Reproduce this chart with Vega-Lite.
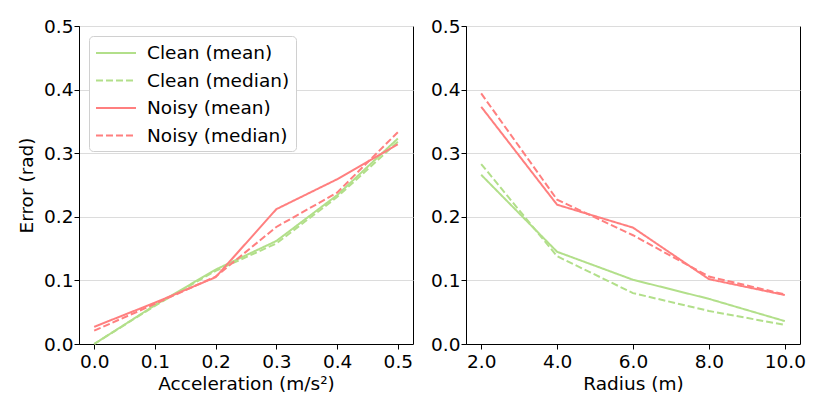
{
  "$schema": "https://vega.github.io/schema/vega-lite/v6.json",
  "background": "white",
  "padding": {"left": 17, "top": 16, "right": 10, "bottom": 5},
  "spacing": 16,
  "datasets": {
    "accel": [
      {"a": 0.0, "series": "Clean (mean)", "err": 0.0},
      {"a": 0.1, "series": "Clean (mean)", "err": 0.061},
      {"a": 0.2, "series": "Clean (mean)", "err": 0.117},
      {"a": 0.3, "series": "Clean (mean)", "err": 0.162},
      {"a": 0.4, "series": "Clean (mean)", "err": 0.234},
      {"a": 0.5, "series": "Clean (mean)", "err": 0.323},
      {"a": 0.0, "series": "Clean (median)", "err": 0.0},
      {"a": 0.1, "series": "Clean (median)", "err": 0.06},
      {"a": 0.2, "series": "Clean (median)", "err": 0.115},
      {"a": 0.3, "series": "Clean (median)", "err": 0.158},
      {"a": 0.4, "series": "Clean (median)", "err": 0.231},
      {"a": 0.5, "series": "Clean (median)", "err": 0.318},
      {"a": 0.0, "series": "Noisy (mean)", "err": 0.027},
      {"a": 0.1, "series": "Noisy (mean)", "err": 0.065},
      {"a": 0.2, "series": "Noisy (mean)", "err": 0.105},
      {"a": 0.3, "series": "Noisy (mean)", "err": 0.212},
      {"a": 0.4, "series": "Noisy (mean)", "err": 0.259},
      {"a": 0.5, "series": "Noisy (mean)", "err": 0.314},
      {"a": 0.0, "series": "Noisy (median)", "err": 0.021},
      {"a": 0.1, "series": "Noisy (median)", "err": 0.063},
      {"a": 0.2, "series": "Noisy (median)", "err": 0.106},
      {"a": 0.3, "series": "Noisy (median)", "err": 0.184},
      {"a": 0.4, "series": "Noisy (median)", "err": 0.238},
      {"a": 0.5, "series": "Noisy (median)", "err": 0.333}
    ],
    "radius": [
      {"r": 2, "series": "Clean (mean)", "err": 0.266},
      {"r": 4, "series": "Clean (mean)", "err": 0.145},
      {"r": 6, "series": "Clean (mean)", "err": 0.101},
      {"r": 8, "series": "Clean (mean)", "err": 0.071},
      {"r": 10, "series": "Clean (mean)", "err": 0.036},
      {"r": 2, "series": "Clean (median)", "err": 0.283},
      {"r": 4, "series": "Clean (median)", "err": 0.138},
      {"r": 6, "series": "Clean (median)", "err": 0.08},
      {"r": 8, "series": "Clean (median)", "err": 0.052},
      {"r": 10, "series": "Clean (median)", "err": 0.03},
      {"r": 2, "series": "Noisy (mean)", "err": 0.373},
      {"r": 4, "series": "Noisy (mean)", "err": 0.219},
      {"r": 6, "series": "Noisy (mean)", "err": 0.183},
      {"r": 8, "series": "Noisy (mean)", "err": 0.102},
      {"r": 10, "series": "Noisy (mean)", "err": 0.077},
      {"r": 2, "series": "Noisy (median)", "err": 0.394},
      {"r": 4, "series": "Noisy (median)", "err": 0.227},
      {"r": 6, "series": "Noisy (median)", "err": 0.171},
      {"r": 8, "series": "Noisy (median)", "err": 0.106},
      {"r": 10, "series": "Noisy (median)", "err": 0.078}
    ]
  },
  "config": {
    "font": "DejaVu Sans",
    "view": {"stroke": "black", "strokeWidth": 1},
    "axis": {
      "labelFont": "DejaVu Sans",
      "titleFont": "DejaVu Sans",
      "labelFontSize": 18.5,
      "titleFontSize": 18.5,
      "titleFontWeight": "normal",
      "labelColor": "black",
      "titleColor": "black",
      "domainColor": "black",
      "tickColor": "black",
      "tickSize": 5,
      "labelPadding": 1,
      "gridColor": "#dcdcdc",
      "gridWidth": 1
    },
    "legend": {
      "labelFont": "DejaVu Sans",
      "labelFontSize": 18.5,
      "labelColor": "black"
    }
  },
  "resolve": {"legend": {"color": "independent", "strokeDash": "independent"}},
  "hconcat": [
    {
      "width": 334,
      "height": 318,
      "data": {"name": "accel"},
      "mark": {"type": "line", "strokeWidth": 2},
      "encoding": {
        "x": {
          "field": "a",
          "type": "quantitative",
          "scale": {"domain": [-0.025, 0.525], "nice": false, "zero": false},
          "axis": {"values": [0, 0.1, 0.2, 0.3, 0.4, 0.5], "format": ".1f", "grid": false, "title": "Acceleration (m/s²)", "titlePadding": 4, "labelPadding": 3}
        },
        "y": {
          "field": "err",
          "type": "quantitative",
          "scale": {"domain": [0, 0.5], "nice": false},
          "axis": {"values": [0, 0.1, 0.2, 0.3, 0.4, 0.5], "format": ".1f", "grid": true, "title": "Error (rad)", "titlePadding": 7}
        },
        "color": {
          "field": "series",
          "type": "nominal",
          "scale": {
            "domain": ["Clean (mean)", "Clean (median)", "Noisy (mean)", "Noisy (median)"],
            "range": ["#b2df8a", "#b2df8a", "#ff7f7f", "#ff7f7f"]
          },
          "legend": {
            "title": null,
            "orient": "top-left",
            "offset": 10,
            "fillColor": "white",
            "strokeColor": "#d0d0d0",
            "cornerRadius": 4,
            "padding": 6,
            "rowPadding": 6.5,
            "symbolType": "M-2,0H2",
            "symbolSize": 400,
            "symbolStrokeWidth": 2,
            "symbolOffset": 10,
            "labelOffset": 20
          }
        },
        "strokeDash": {
          "field": "series",
          "type": "nominal",
          "scale": {
            "domain": ["Clean (mean)", "Clean (median)", "Noisy (mean)", "Noisy (median)"],
            "range": [[1, 0], [7, 3], [1, 0], [7, 3]]
          },
          "legend": {
            "title": null,
            "orient": "top-left",
            "offset": 10,
            "fillColor": "white",
            "strokeColor": "#d0d0d0",
            "cornerRadius": 4,
            "padding": 6,
            "rowPadding": 6.5,
            "symbolType": "M-2,0H2",
            "symbolSize": 400,
            "symbolStrokeWidth": 2,
            "symbolOffset": 10,
            "labelOffset": 20
          }
        }
      }
    },
    {
      "width": 334,
      "height": 318,
      "data": {"name": "radius"},
      "mark": {"type": "line", "strokeWidth": 2},
      "encoding": {
        "x": {
          "field": "r",
          "type": "quantitative",
          "scale": {"domain": [1.6, 10.4], "nice": false, "zero": false},
          "axis": {"values": [2, 4, 6, 8, 10], "format": ".1f", "grid": false, "title": "Radius (m)", "titlePadding": 4, "labelPadding": 3}
        },
        "y": {
          "field": "err",
          "type": "quantitative",
          "scale": {"domain": [0, 0.5], "nice": false},
          "axis": {"values": [0, 0.1, 0.2, 0.3, 0.4, 0.5], "format": ".1f", "grid": true, "title": null}
        },
        "color": {
          "field": "series",
          "type": "nominal",
          "scale": {
            "domain": ["Clean (mean)", "Clean (median)", "Noisy (mean)", "Noisy (median)"],
            "range": ["#b2df8a", "#b2df8a", "#ff7f7f", "#ff7f7f"]
          },
          "legend": null
        },
        "strokeDash": {
          "field": "series",
          "type": "nominal",
          "scale": {
            "domain": ["Clean (mean)", "Clean (median)", "Noisy (mean)", "Noisy (median)"],
            "range": [[1, 0], [7, 3], [1, 0], [7, 3]]
          },
          "legend": null
        }
      }
    }
  ]
}
